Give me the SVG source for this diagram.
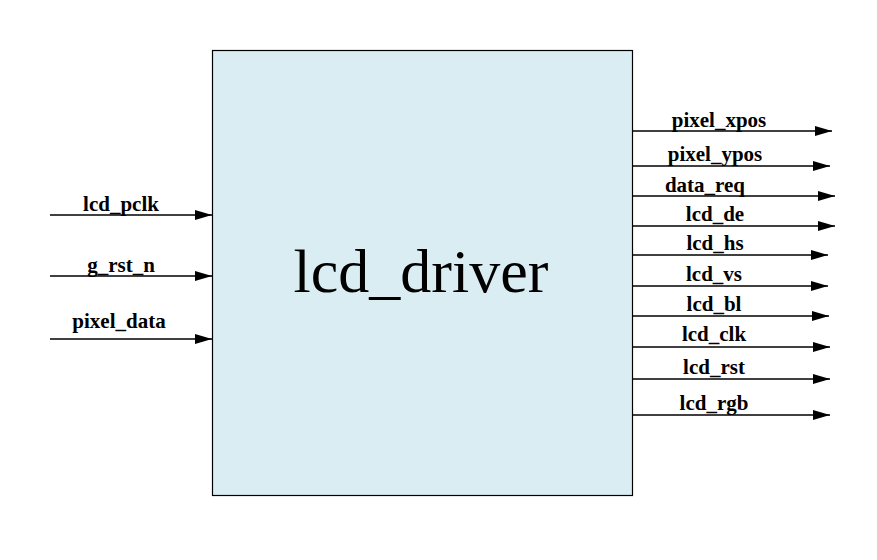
<svg xmlns="http://www.w3.org/2000/svg" width="877" height="560" viewBox="0 0 877 560">
<defs>
<marker id="ah" markerWidth="17" markerHeight="10" refX="17" refY="5" orient="auto" markerUnits="userSpaceOnUse">
<path d="M0,0 L17,5 L0,10 Z" fill="#000"/>
</marker>
<style>
.sig{stroke:#000;stroke-width:1.3;fill:none;marker-end:url(#ah)}
.lbl{font-family:"Liberation Serif","Times New Roman",serif;font-weight:bold;font-size:21px;fill:#000;text-anchor:middle}
.title{font-family:"Liberation Serif","Times New Roman",serif;font-size:62px;fill:#000;text-anchor:middle}
</style>
</defs>
<rect width="877" height="560" fill="#fff"/>
<g id="lcd_driver">
<rect x="212.5" y="50.5" width="420" height="445" fill="#daedf3" stroke="#000" stroke-width="1.2"/>
<text class="title" x="421" y="292">lcd_driver</text>
</g>
<g id="connectors">
<line class="sig" x1="50" y1="215" x2="212" y2="215"/>
<line class="sig" x1="50" y1="276" x2="212" y2="276"/>
<line class="sig" x1="50" y1="339" x2="212" y2="339"/>
<line class="sig" x1="632" y1="131" x2="832" y2="131"/>
<line class="sig" x1="632" y1="166" x2="830" y2="166"/>
<line class="sig" x1="632" y1="196" x2="835" y2="196"/>
<line class="sig" x1="632" y1="226" x2="835" y2="226"/>
<line class="sig" x1="632" y1="255" x2="828" y2="255"/>
<line class="sig" x1="632" y1="286" x2="828" y2="286"/>
<line class="sig" x1="632" y1="316" x2="829" y2="316"/>
<line class="sig" x1="632" y1="347" x2="830" y2="347"/>
<line class="sig" x1="632" y1="379" x2="830" y2="379"/>
<line class="sig" x1="632" y1="415" x2="830" y2="415"/>
</g>
<g id="labels">
<text class="lbl" x="121" y="211">lcd_pclk</text>
<text class="lbl" x="121" y="272">g_rst_n</text>
<text class="lbl" x="119" y="328">pixel_data</text>
<text class="lbl" x="719" y="127">pixel_xpos</text>
<text class="lbl" x="715" y="161">pixel_ypos</text>
<text class="lbl" x="705" y="192">data_req</text>
<text class="lbl" x="715" y="221">lcd_de</text>
<text class="lbl" x="715" y="250">lcd_hs</text>
<text class="lbl" x="714" y="281">lcd_vs</text>
<text class="lbl" x="714" y="311">lcd_bl</text>
<text class="lbl" x="714" y="341">lcd_clk</text>
<text class="lbl" x="714" y="374">lcd_rst</text>
<text class="lbl" x="714" y="410">lcd_rgb</text>
</g>
</svg>
